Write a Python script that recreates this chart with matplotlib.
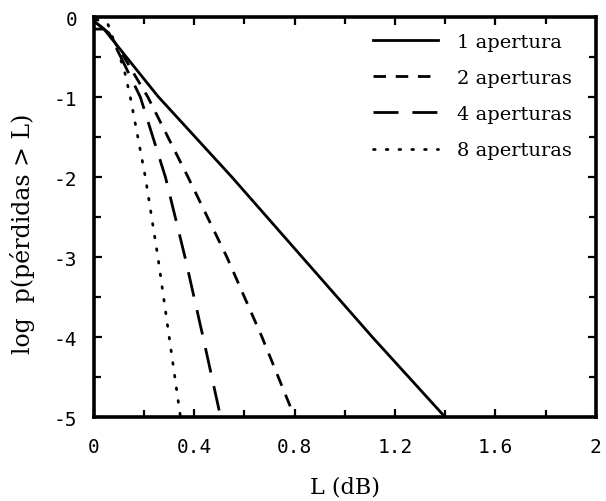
import numpy as np
import matplotlib
matplotlib.use("Agg")
import matplotlib.pyplot as plt
from matplotlib.ticker import MultipleLocator

# L (dB) vs log p(perdidas > L), read per curve
L_1 = [0.0, 0.04, 0.15, 0.255, 0.55, 0.83, 1.11, 1.40]
p_1 = [-0.15, -0.15, -0.58, -0.99, -2.0, -3.0, -4.0, -5.0]

L_2 = [0.0, 0.06, 0.12, 0.215, 0.375, 0.53, 0.67, 0.80]
p_2 = [-0.05, -0.2, -0.5, -1.0, -2.0, -3.0, -4.0, -5.0]

L_4 = [0.0, 0.06, 0.115, 0.185, 0.285, 0.363, 0.435, 0.505]
p_4 = [-0.05, -0.2, -0.55, -1.0, -2.0, -3.0, -4.0, -5.0]

L_8 = [0.01, 0.056, 0.12, 0.145, 0.205, 0.255, 0.30, 0.345]
p_8 = [-0.03, -0.09, -0.65, -1.0, -2.0, -3.0, -4.0, -5.0]

labels = ['1 apertura', '2 aperturas', '4 aperturas', '8 aperturas']
xticks = [0, 0.4, 0.8, 1.2, 1.6, 2]
xticklabels = ['0', '0.4', '0.8', '1.2', '1.6', '2']
yticks = [0, -1, -2, -3, -4, -5]

plt.rcParams['axes.unicode_minus'] = False
serif = 'DejaVu Serif'
mono = 'DejaVu Sans Mono'

fig = plt.figure(figsize=(6.06, 5.02), dpi=100)
ax = fig.add_axes([0.155, 0.167, 0.828, 0.797])

lw = 2.0
ax.plot(L_1, p_1, color='black', lw=lw, linestyle='-', label=labels[0])
ax.plot(L_2, p_2, color='black', lw=lw, linestyle=(0, (4.5, 3.5)), label=labels[1])
ax.plot(L_4, p_4, color='black', lw=lw, linestyle=(0, (9, 5)), label=labels[2])
ax.plot(L_8, p_8, color='black', lw=lw, linestyle=(0, (0.6, 4.0)),
        dash_capstyle='round', label=labels[3])

ax.set_xlim(0, 2)
ax.set_ylim(-5, 0)
ax.set_xticks(xticks)
ax.set_xticklabels(xticklabels)
ax.set_yticks(yticks)
ax.xaxis.set_minor_locator(MultipleLocator(0.2))
ax.yaxis.set_minor_locator(MultipleLocator(0.5))

ax.tick_params(which='both', direction='in', top=True, right=True,
               width=1.6, color='black')
ax.tick_params(which='major', length=6)
ax.tick_params(which='minor', length=5)
ax.tick_params(axis='x', which='major', pad=14)
ax.tick_params(axis='y', which='major', pad=12)
for lab in ax.get_xticklabels() + ax.get_yticklabels():
    lab.set_fontfamily(mono)
    lab.set_fontsize(14)

for s in ax.spines.values():
    s.set_linewidth(2.6)

ax.set_xlabel('L (dB)', fontfamily=serif, fontsize=16, labelpad=14)
ax.set_ylabel('log  p(pérdidas > L)', fontfamily=serif, fontsize=17)
ax.yaxis.set_label_coords(-0.118, 0.46)

leg = ax.legend(loc='upper left', frameon=False, handlelength=3.35,
                handletextpad=1.0, labelspacing=0.93,
                borderpad=0, borderaxespad=0,
                prop={'family': serif, 'size': 14},
                bbox_to_anchor=(0.556, 0.96))

fig.savefig('out.png', dpi=100)
